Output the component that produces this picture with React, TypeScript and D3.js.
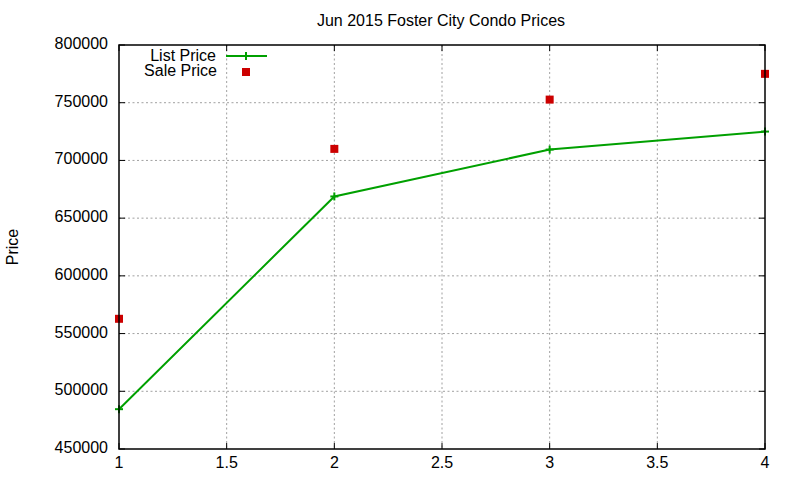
import React from "react";
import * as d3 from "d3";

const xValues = [1, 2, 3, 4];
const listPrice = [484500, 668800, 709400, 725000];
const salePrice = [562800, 710000, 752700, 775000];
const xTicks = [1, 1.5, 2, 2.5, 3, 3.5, 4];
const yTicks = [450000, 500000, 550000, 600000, 650000, 700000, 750000, 800000];

const W = 800;
const H = 480;
const M = { left: 119, right: 765, top: 45, bottom: 449 };
const FONT = "'Liberation Sans', Arial, sans-serif";
const GREEN = "#00a000";
const RED = "#cc0000";

export default function App() {
  const x = d3.scaleLinear().domain([1, 4]).range([M.left, M.right]);
  const y = d3.scaleLinear().domain([450000, 800000]).range([M.bottom, M.top]);

  const line = d3
    .line<number>()
    .x((_, i) => x(xValues[i]))
    .y((d) => y(d));

  const tick = 6;

  return (
    <div style={{ position: "fixed", left: 0, top: 0 }}>
      <svg width={W} height={H} style={{ display: "block", background: "#fff" }} fontFamily={FONT}>
        {/* grid */}
        <g stroke="#a0a0a0" strokeWidth={1} strokeDasharray="2,2.5">
          {xTicks.slice(1, -1).map((t) => (
            <line key={"gx" + t} x1={x(t)} x2={x(t)} y1={M.top} y2={M.bottom} />
          ))}
          {yTicks.slice(1, -1).map((t) => (
            <line key={"gy" + t} x1={M.left} x2={M.right} y1={y(t)} y2={y(t)} />
          ))}
        </g>

        {/* ticks on all sides */}
        <g stroke="#000" strokeWidth={1}>
          {xTicks.map((t) => (
            <g key={"tx" + t}>
              <line x1={x(t)} x2={x(t)} y1={M.bottom} y2={M.bottom - tick} />
              <line x1={x(t)} x2={x(t)} y1={M.top} y2={M.top + tick} />
            </g>
          ))}
          {yTicks.map((t) => (
            <g key={"ty" + t}>
              <line x1={M.left} x2={M.left + tick} y1={y(t)} y2={y(t)} />
              <line x1={M.right} x2={M.right - tick} y1={y(t)} y2={y(t)} />
            </g>
          ))}
        </g>

        {/* tick labels */}
        <g fontSize={16} fill="#000">
          {xTicks.map((t) => (
            <text key={"lx" + t} x={x(t)} y={M.bottom + 19} textAnchor="middle">
              {d3.format("")(t)}
            </text>
          ))}
          {yTicks.map((t) => (
            <text key={"ly" + t} x={M.left - 11} y={y(t) + 4} textAnchor="end">
              {t}
            </text>
          ))}
        </g>

        {/* title & axis label */}
        <text x={441} y={26} textAnchor="middle" fontSize={16}>
          Jun 2015 Foster City Condo Prices
        </text>
        <text transform="translate(18,247) rotate(-90)" textAnchor="middle" fontSize={16}>
          Price
        </text>

        {/* list price line */}
        <path d={line(listPrice) || ""} fill="none" stroke={GREEN} strokeWidth={2} />
        <g stroke={GREEN} strokeWidth={2}>
          {listPrice.map((v, i) => (
            <g key={"lp" + i}>
              <line x1={x(xValues[i]) - 4} x2={x(xValues[i]) + 4} y1={y(v)} y2={y(v)} />
              <line x1={x(xValues[i])} x2={x(xValues[i])} y1={y(v) - 4} y2={y(v) + 4} />
            </g>
          ))}
        </g>

        {/* sale price points */}
        {salePrice.map((v, i) => (
          <rect key={"sp" + i} x={x(xValues[i]) - 4} y={y(v) - 4} width={8} height={8} fill={RED} />
        ))}

        {/* border */}
        <rect x={M.left} y={M.top} width={M.right - M.left} height={M.bottom - M.top} fill="none" stroke="#000" strokeWidth={1.5} />

        {/* legend */}
        <g fontSize={16}>
          <text x={216} y={61} textAnchor="end">List Price</text>
          <line x1={226} x2={267} y1={56} y2={56} stroke={GREEN} strokeWidth={2} />
          <line x1={246} x2={246} y1={52} y2={60} stroke={GREEN} strokeWidth={2} />
          <text x={217} y={76} textAnchor="end">Sale Price</text>
          <rect x={242} y={68} width={8} height={8} fill={RED} />
        </g>
      </svg>
    </div>
  );
}
